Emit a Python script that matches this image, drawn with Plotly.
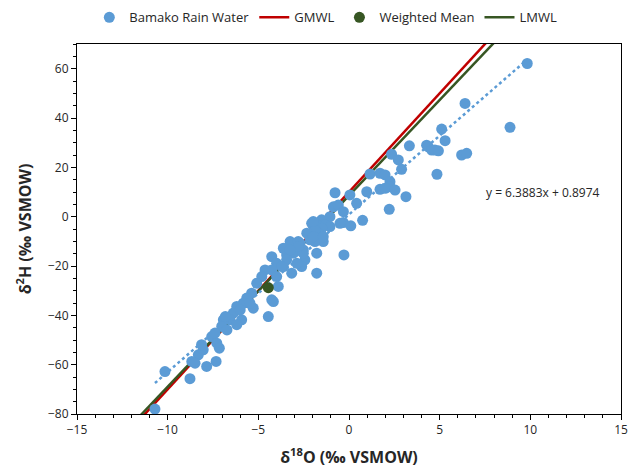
import numpy as np
import plotly.graph_objects as go

# Bamako rain water isotopes (per mil VSMOW)
d18o = [
    9.83, 6.40, 8.88, 5.11, 5.30, 4.28, 4.37, 4.56, 4.74, 4.93, 6.21, 6.49, 4.85,
    3.33, 2.35, 2.72, 2.90, 1.16, 1.71, 1.99, 2.26, 2.26, 0.98, 1.71, 1.99, 2.54,
    3.14, 2.22, 0.75, 0.05, -0.77, 0.42, -0.86, -0.59, -0.31, -0.31, -0.50, 0.10,
    -2.06, -1.51, -1.05, -1.32, -1.05, -1.78, -1.50, -1.97, -1.69, -1.88, -2.33,
    -1.42, -1.88, -2.15, -1.97, -1.42, -1.97, -3.25, -2.70, -2.80, -2.98, -2.52,
    -2.43, -3.44, -3.62, -3.07, -2.52, -2.80, -3.25, -1.78, -0.28, -1.78, -3.16,
    -3.62, -4.26, -3.44, -3.99, -3.71, -4.26, -2.61, -2.88, -4.63, -4.81, -5.09,
    -3.99, -3.90, -4.26, -4.17, -4.45, -5.37, -5.64, -5.83, -5.28, -6.19, -6.38,
    -6.56, -5.92, -6.93, -7.02, -6.82, -6.19, -6.00, -5.46, -6.73, -7.57, -7.39,
    -7.29, -7.15, -8.31, -8.04, -8.13, -8.67, -8.49, -7.85, -7.33, -8.77, -10.15,
    -10.70,
]
d2h = [
    62.1, 45.9, 36.2, 35.5, 30.8, 29.0, 28.3, 27.0, 27.0, 26.7, 25.0, 25.7, 17.2,
    28.7, 25.3, 23.0, 19.2, 17.3, 17.6, 16.9, 14.2, 12.1, 10.1, 11.1, 11.5, 10.8,
    8.1, 3.0, -1.5, 8.8, 9.7, 5.4, 4.0, 4.7, 2.0, -2.4, -2.7, -3.7,
    -2.7, -1.3, 0.0, -3.4, -4.0, -3.4, -4.7, -6.1, -6.7, -5.4, -6.7,
    -10.1, -10.1, -9.4, -8.1, -8.1, -2.0, -10.1, -10.8, -10.1, -14.2, -13.5,
    -17.5, -15.5, -12.8, -14.8, -14.8, -12.1, -13.5, -14.8, -15.5, -22.9, -22.9,
    -20.2, -16.2, -17.5, -18.9, -20.2, -21.6, -20.2, -18.9, -21.6, -24.3, -27.0,
    -24.3, -28.3, -33.7, -34.4, -40.5, -31.0, -33.0, -35.1, -37.1, -36.4, -39.1,
    -41.8, -41.8, -41.8, -44.5, -40.5, -43.8, -37.8, -35.1, -45.9, -48.6, -47.2,
    -51.3, -53.3, -56.0, -54.0, -51.9, -58.7, -59.4, -60.7, -58.7, -65.7, -62.8,
    -78.0,
]

# Amount-weighted mean
mean_d18o = [-4.45]
mean_d2h = [-28.8]

# Meteoric water lines: slope, intercept
gmwl = (8.0, 10.0)
lmwl = (7.75, 8.55)
trend = (6.3883, 0.8974)

line_x = np.array([-16.0, 16.0])
trend_x = np.array([min(d18o), max(d18o)])

blue = "#5B9BD5"
red = "#C00000"
green = "#375623"

fig = go.Figure()

fig.add_trace(go.Scatter(
    x=line_x, y=gmwl[0] * line_x + gmwl[1], mode="lines", name="GMWL",
    line=dict(color=red, width=2.5), legendrank=2))
fig.add_trace(go.Scatter(
    x=line_x, y=lmwl[0] * line_x + lmwl[1], mode="lines", name="LMWL",
    line=dict(color=green, width=2.5), legendrank=4))
fig.add_trace(go.Scatter(
    x=trend_x, y=trend[0] * trend_x + trend[1], mode="lines", showlegend=False,
    line=dict(color=blue, width=2.5, dash="dot"), hoverinfo="skip"))
fig.add_trace(go.Scatter(
    x=d18o, y=d2h, mode="markers", name="Bamako Rain Water",
    marker=dict(color=blue, size=11), legendrank=1))
fig.add_trace(go.Scatter(
    x=mean_d18o, y=mean_d2h, mode="markers", name="Weighted Mean",
    marker=dict(color=green, size=11), legendrank=3))

fig.add_annotation(
    x=10.7, y=9.6, text="y = 6.3883x + 0.8974", showarrow=False,
    font=dict(size=12, color="#262626"), xanchor="center", yanchor="middle")

axis_common = dict(
    showgrid=False, zeroline=False, showline=True, linecolor="black",
    linewidth=1, mirror=True, ticks="outside", ticklen=5, tickcolor="black",
    tickfont=dict(size=12, color="#262626"), automargin=False,
)

fig.update_xaxes(
    range=[-15, 15], dtick=5, tick0=-15,
    minor=dict(dtick=1, ticks="outside", ticklen=3, tickcolor="black"),
    title=dict(text="<b>δ<sup>18</sup>O (‰ VSMOW)</b>",
               font=dict(size=16, color="#262626"), standoff=14),
    **axis_common)
fig.update_yaxes(
    range=[-80, 70], dtick=20, tick0=-80,
    minor=dict(dtick=5, ticks="outside", ticklen=3, tickcolor="black"),
    title=dict(text="<b>δ<sup>2</sup>H (‰ VSMOW)</b>",
               font=dict(size=16, color="#262626"), standoff=12),
    **axis_common)

fig.update_layout(
    width=629, height=474,
    margin=dict(l=77, r=8, t=44, b=60),
    paper_bgcolor="white", plot_bgcolor="white",
    font=dict(family="Open Sans", color="#262626"),
    legend=dict(orientation="h", x=0.518, xanchor="center", xref="container",
                y=0.995, yanchor="top", yref="container", font=dict(size=13),
                traceorder="normal", itemwidth=30,
                bgcolor="rgba(0,0,0,0)"),
    showlegend=True,
)

fig.write_html("out.html")
